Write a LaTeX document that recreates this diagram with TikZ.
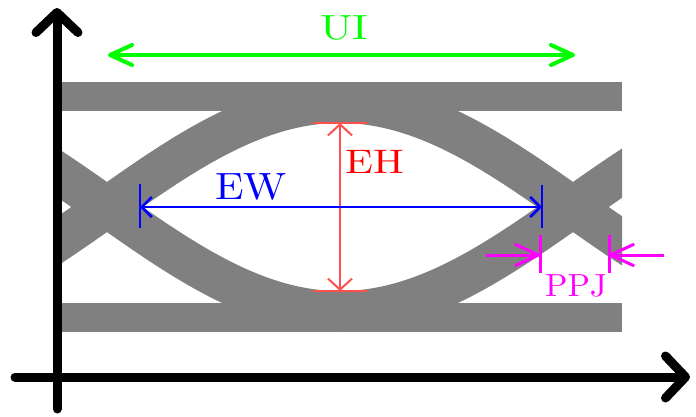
\documentclass[tikz,border=0pt]{standalone}
\usetikzlibrary{arrows.meta}
\definecolor{eyegray}{RGB}{128,128,128}
\definecolor{uigreen}{RGB}{0,255,0}
\definecolor{ehred}{RGB}{255,0,0}
\definecolor{ehline}{RGB}{255,80,80}
\definecolor{ewblue}{RGB}{0,0,255}
\definecolor{ppjmag}{RGB}{255,0,255}
\begin{document}
\begin{tikzpicture}[x={(1pt,0pt)}, y={(0pt,-1pt)},
  axis/.style={line width=9pt, line cap=round, line join=round,
    -{Straight Barb[length=20pt, width=42pt, line cap=round, line join=round]}},
  band/.style={eyegray, line width=29pt},
  trace/.style={eyegray, line width=41pt},
  lbl/.style={inner sep=0pt, anchor=base, font=\normalsize},
  uiarrow/.style={uigreen, line width=4pt,
    {Straight Barb[length=22pt, width=20pt, line cap=round, line join=round]}-{Straight Barb[length=22pt, width=20pt, line cap=round, line join=round]}},
  eharrow/.style={ehline, line width=2pt,
    {Straight Barb[length=11pt, width=24pt]}-{Straight Barb[length=11pt, width=24pt]}},
  ewarrow/.style={ewblue, line width=2.5pt,
    {Straight Barb[length=10pt, width=20pt]}-{Straight Barb[length=10pt, width=20pt]}},
  ppjarrow/.style={ppjmag, line width=3pt,
    -{Straight Barb[length=23pt, width=21pt, line cap=round, line join=round]}},
]
\useasboundingbox (0,0) rectangle (696,416);

% signal rails (steady high and low levels)
\draw[band] (57,96.5) -- (622,96.5);
\draw[band] (57,317.5) -- (622,317.5);

% rising and falling transitions, clipped to the sampling window
% (half period 466 px: 180/466 = 0.386266 deg per px)
\begin{scope}
  \clip (57,40) rectangle (622,380);
  \draw[trace] plot[domain=20:680, samples=160, smooth]
    (\x, {207-104.5*sin(0.386266*(\x-107))});
  \draw[trace] plot[domain=20:680, samples=160, smooth]
    (\x, {207+104.5*sin(0.386266*(\x-107))});
\end{scope}

% axes
\coordinate (ybot) at (57,409);
\coordinate (ytop) at (57,8);
\coordinate (xleft) at (15,377);
\coordinate (xright) at (690,377);
\draw[axis] (ybot) -- (ytop);
\draw[axis] (xleft) -- (xright);

% unit interval
\coordinate (uiL) at (108,55);
\coordinate (uiR) at (575,55);
\draw[uiarrow] (uiL) -- (uiR);
\node[lbl, text=uigreen] (ui) at (344,39) {\scalebox{4.3}[3.5]{UI}};

% eye height
\coordinate (ehT) at (340,123);
\coordinate (ehB) at (340,291);
\coordinate (ehTl) at (313,123);
\coordinate (ehTr) at (367,123);
\coordinate (ehBl) at (313,291);
\coordinate (ehBr) at (367,291);
\draw[ehline, line width=2.5pt] (ehTl) -- (ehTr);
\draw[ehline, line width=2.5pt] (ehBl) -- (ehBr);
\draw[eharrow] (ehT) -- (ehB);
\node[lbl, anchor=base west, text=ehred] (eh) at (345,173) {\scalebox{4.1}[3.4]{EH}};

% eye width
\coordinate (ewL) at (140,207);
\coordinate (ewR) at (542,207);
\coordinate (ewLt) at (140,184);
\coordinate (ewLb) at (140,228);
\coordinate (ewRt) at (542,185);
\coordinate (ewRb) at (542,228);
\draw[ewblue, line width=2.5pt] (ewLt) -- (ewLb);
\draw[ewblue, line width=2.5pt] (ewRt) -- (ewRb);
\draw[ewarrow] (ewL) -- (ewR);
\node[lbl, text=ewblue] (ew) at (251,199) {\scalebox{4.2}[3.8]{EW}};

% peak-to-peak jitter
\coordinate (pjLt) at (540,235);
\coordinate (pjLb) at (540,273);
\coordinate (pjRt) at (609,235);
\coordinate (pjRb) at (609,273);
\coordinate (pjL) at (540,255);
\coordinate (pjR) at (609,255);
\coordinate (pjLs) at (486,255);
\coordinate (pjRs) at (664,255);
\draw[ppjmag, line width=3pt] (pjLt) -- (pjLb);
\draw[ppjmag, line width=3pt] (pjRt) -- (pjRb);
\draw[ppjarrow] (pjLs) -- (pjL);
\draw[ppjarrow] (pjRs) -- (pjR);
\node[lbl, text=ppjmag] (ppj) at (576,296) {\scalebox{3.3}[3.2]{PPJ}};
\end{tikzpicture}
\end{document}
